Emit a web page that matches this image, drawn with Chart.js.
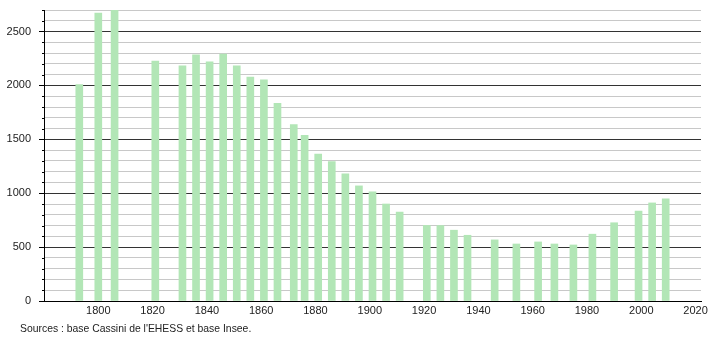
<!DOCTYPE html>
<html>
<head>
<meta charset="utf-8">
<script src="https://cdn.jsdelivr.net/npm/chart.js@4/dist/chart.umd.min.js"></script>
<style>
  html, body { margin: 0; padding: 0; background: #fff; }
  #wrap { position: relative; width: 710px; height: 340px; }
  #src { position: absolute; left: 20px; top: 323px; font: 10.4px "Liberation Sans", Arial, sans-serif; color: #222; white-space: nowrap; }
</style>
</head>
<body>
<div id="wrap">
  <canvas id="c" width="710" height="340"></canvas>
  <div id="src">Sources : base Cassini de l'EHESS et base Insee.</div>
</div>
<script>
const years = [1793, 1800, 1806, 1821, 1831, 1836, 1841, 1846, 1851, 1856, 1861, 1866, 1872, 1876, 1881, 1886, 1891, 1896, 1901, 1906, 1911, 1921, 1926, 1931, 1936, 1946, 1954, 1962, 1968, 1975, 1982, 1990, 1999, 2004, 2009];
const population = [2009, 2671, 2705, 2227, 2183, 2283, 2220, 2292, 2183, 2078, 2052, 1835, 1636, 1536, 1363, 1294, 1180, 1068, 1012, 900, 825, 701, 700, 657, 610, 567, 529, 548, 529, 520, 620, 726, 835, 910, 947];
const yTickLabels = [0, 500, 1000, 1500, 2000, 2500];
const xTickLabels = [1800, 1820, 1840, 1860, 1880, 1900, 1920, 1940, 1960, 1980, 2000, 2020];

const FONT = { family: '"Liberation Sans", Arial, sans-serif', size: 11 };

const minorTicks = {
  id: 'minorTicks',
  afterDraw(chart) {
    const y = chart.scales.y;
    const ctx = chart.ctx;
    ctx.save();
    ctx.strokeStyle = '#000';
    ctx.lineWidth = 1;
    y.ticks.forEach(t => {
      if (t.value % 500 !== 0) {
        const py = Math.round(y.getPixelForValue(t.value)) + 0.5;
        ctx.beginPath();
        ctx.moveTo(y.right - 2, py);
        ctx.lineTo(y.right, py);
        ctx.stroke();
      }
    });
    ctx.restore();
  }
};

new Chart(document.getElementById('c'), {
  type: 'bar',
  data: {
    datasets: [{
      data: years.map((yr, i) => ({ x: yr, y: population[i] })),
      backgroundColor: 'rgb(178,230,182)',
      borderWidth: 0,
      barThickness: 7
    }]
  },
  options: {
    responsive: false,
    animation: false,
    devicePixelRatio: 1,
    layout: { padding: { top: 10, right: 9, left: 0, bottom: 19 } },
    plugins: { legend: { display: false }, tooltip: { enabled: false }, title: { display: false } },
    scales: {
      x: {
        type: 'linear',
        offset: false,
        min: 1780,
        max: 2022,
        afterBuildTicks: s => { s.ticks = xTickLabels.map(v => ({ value: v })); },
        ticks: { font: FONT, color: '#222', padding: 3, maxRotation: 0, autoSkip: false, callback: v => String(v) },
        grid: { display: false, drawTicks: false, offset: false },
        border: { display: true, color: '#000', width: 1 },
        afterFit: s => { s.height = 20; s.paddingLeft = 0; s.paddingRight = 0; }
      },
      y: {
        min: 0,
        max: 2700,
        ticks: {
          stepSize: 100,
          autoSkip: false,
          font: FONT,
          color: '#222',
          padding: 8,
          callback: v => (yTickLabels.includes(v) ? String(v) : '')
        },
        grid: {
          color: c => (c.tick && c.tick.value % 500 === 0 && c.tick.value !== 0 ? '#333' : '#c8c8c8'),
          tickColor: c => (c.tick && c.tick.value % 500 === 0 ? '#000' : 'rgba(0,0,0,0)'),
          tickLength: 5,
          lineWidth: 1
        },
        border: { display: true, color: '#000', width: 1 },
        afterFit: s => { s.width = 44; s.paddingTop = 0; s.paddingBottom = 0; }
      }
    }
  },
  plugins: [minorTicks]
});
</script>
</body>
</html>
